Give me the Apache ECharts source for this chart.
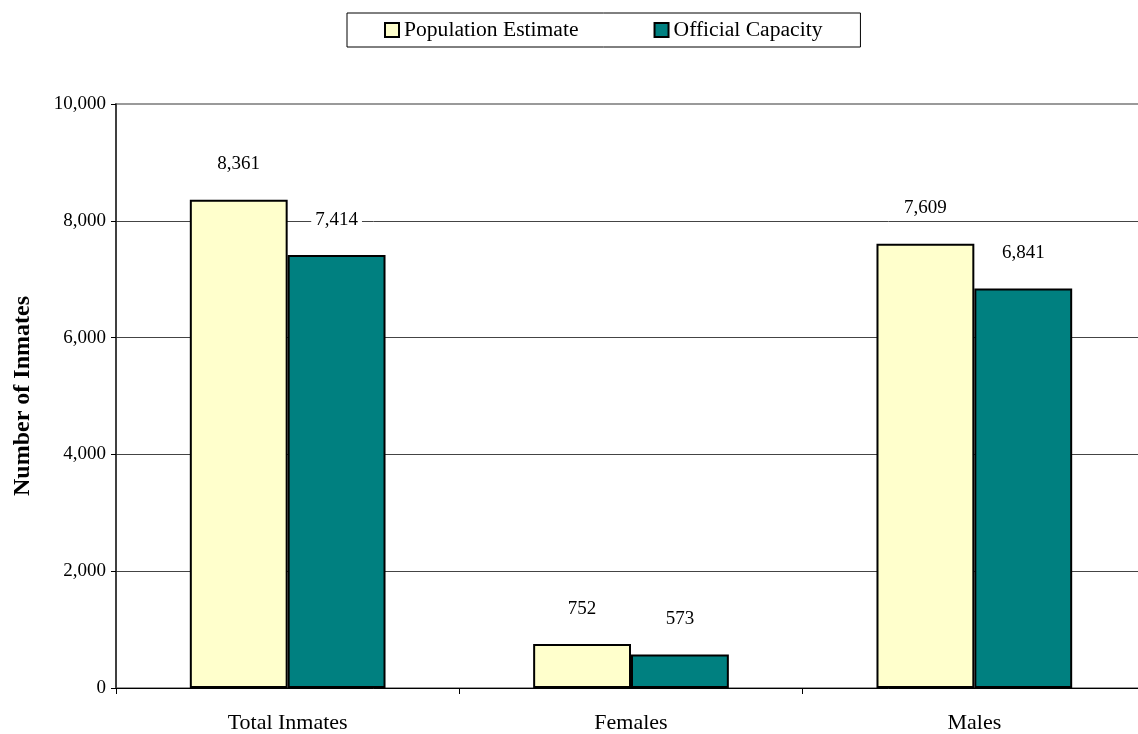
<!DOCTYPE html>
<html><head><meta charset="utf-8">
<script src="https://cdn.jsdelivr.net/npm/echarts@6/dist/echarts.min.js"></script>
<style>html,body{margin:0;padding:0;background:#fff;overflow:hidden}
#wrap{position:relative;width:1138px;height:734px;overflow:hidden}
#c{position:absolute;left:0;top:0;width:1146px;height:734px}</style>
</head><body><div id="wrap"><div id="c"></div></div>
<script>
const categories = ['Total Inmates', 'Females', 'Males'];
const populationEstimate = [8361, 752, 7609];
const officialCapacity = [7414, 573, 6841];
const seriesNames = ['Population Estimate', 'Official Capacity'];
const yTicks = { min: 0, max: 10000, interval: 2000 };

const font = 'Liberation Serif';
const chart = echarts.init(document.getElementById('c'), null, { renderer: 'canvas', width: 1146, height: 734 });
const labelCfg = {
  show: true, position: 'top', distance: 26, color: '#000', fontFamily: font, fontSize: 19,
  backgroundColor: '#fff', padding: [0, 4],
  formatter: p => p.value.toLocaleString('en-US')
};
chart.setOption({
  animation: false,
  textStyle: { fontFamily: font },
  legend: {
    top: 13, left: 347,
    padding: [6, 38, 6, 37],
    itemGap: 75,
    itemWidth: 14, itemHeight: 14,
    borderColor: '#000', borderWidth: 1,
    textStyle: { fontFamily: font, fontSize: 21.6, color: '#000' },
    data: [
      { name: seriesNames[0], icon: 'rect', itemStyle: { borderColor: '#000', borderWidth: 2 } },
      { name: seriesNames[1], icon: 'rect', itemStyle: { borderColor: '#000', borderWidth: 2 } }
    ]
  },
  grid: { left: 116, right: 0, top: 104, height: 585, show: true, borderColor: '#9a9a9a', borderWidth: 2 },
  xAxis: {
    type: 'category', data: categories,
    axisLine: { lineStyle: { color: '#000', width: 1 } },
    axisTick: { show: true, length: 6, lineStyle: { color: '#000' } },
    axisLabel: { color: '#000', fontSize: 22, fontFamily: font, margin: 24 }
  },
  yAxis: {
    type: 'value', min: yTicks.min, max: yTicks.max, interval: yTicks.interval,
    name: 'Number of Inmates', nameLocation: 'middle', nameGap: 81,
    nameTextStyle: { fontFamily: font, fontSize: 24, fontWeight: 'bold', color: '#000' },
    axisLine: { show: true, lineStyle: { color: '#222', width: 1.5 } },
    axisTick: { show: true, length: 5, lineStyle: { color: '#000' } },
    axisLabel: { color: '#000', fontSize: 19, fontFamily: font, margin: 10,
      formatter: v => v.toLocaleString('en-US') },
    splitLine: { show: true, showMaxLine: false, lineStyle: { color: '#444', width: 1 } }
  },
  series: [
    { name: seriesNames[0], type: 'bar', data: populationEstimate, barGap: '0%', barCategoryGap: '43%',
      itemStyle: { color: '#FFFFCC', borderColor: '#000', borderWidth: 2 }, label: labelCfg },
    { name: seriesNames[1], type: 'bar', data: officialCapacity,
      itemStyle: { color: '#008080', borderColor: '#000', borderWidth: 2 }, label: labelCfg }
  ]
});
</script></body></html>
